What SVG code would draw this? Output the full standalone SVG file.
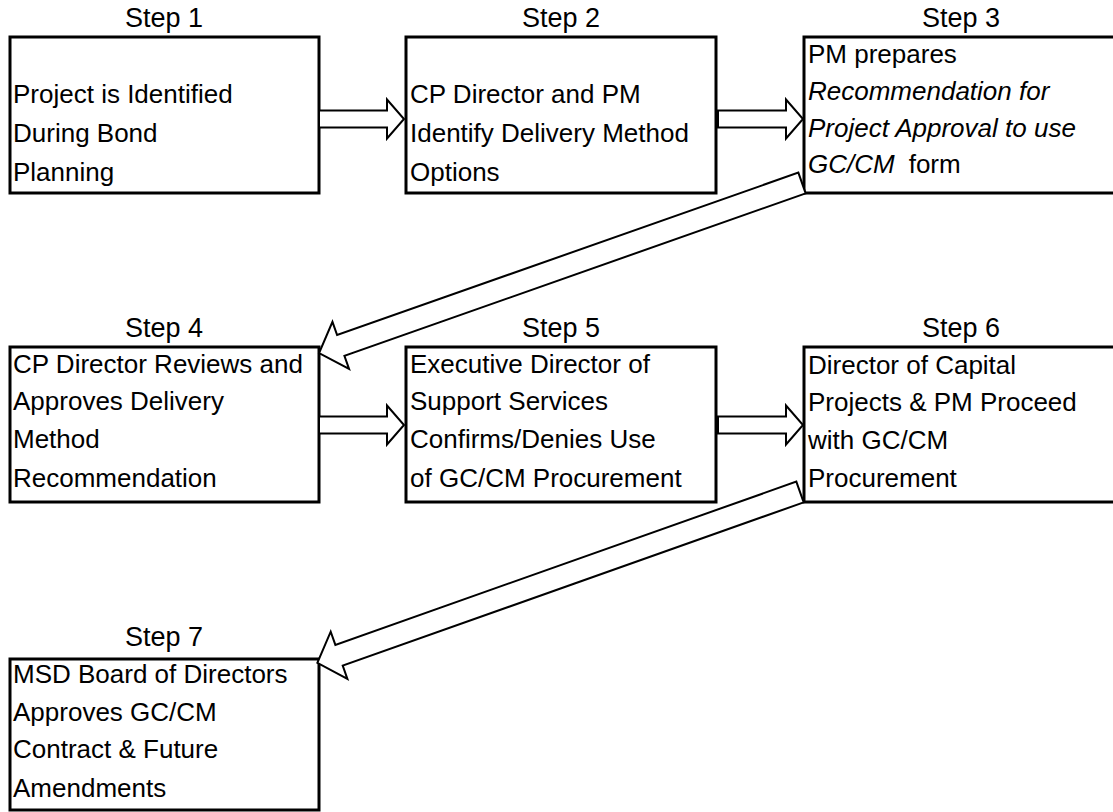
<svg xmlns="http://www.w3.org/2000/svg" width="1113" height="812" viewBox="0 0 1113 812">
<style>
text{font-family:"Liberation Sans",Arial,sans-serif;font-size:26px;fill:#000}
.lbl{text-anchor:middle;font-size:27px}
.it{font-style:italic}
.box{fill:#fff;stroke:#000;stroke-width:3}
.arr{fill:#fff;stroke:#000;stroke-width:2;stroke-linejoin:miter}
</style>
<rect width="1113" height="812" fill="#fff"/>
<defs>
<path id="hArrow" d="M0,-8.5 H68 V-19.5 L85,0 L68,19.5 V8.5 H0 Z"/>
<path id="dArrow" d="M0,-11 H489 V-25 L512,0 L489,25 V11 H0 Z"/>
</defs>
<g id="step1">
<text class="lbl" x="164" y="27">Step 1</text>
<rect class="box" x="10" y="37" width="309" height="156"/>
<text x="13" y="103">Project is Identified</text>
<text x="13" y="142">During Bond</text>
<text x="13" y="181">Planning</text>
</g>
<g id="step2">
<text class="lbl" x="561" y="27">Step 2</text>
<rect class="box" x="406" y="37" width="310" height="156"/>
<text x="410" y="103">CP Director and PM</text>
<text x="410" y="142">Identify Delivery Method</text>
<text x="410" y="181">Options</text>
</g>
<g id="step3">
<text class="lbl" x="961" y="27">Step 3</text>
<rect class="box" x="804" y="37" width="311" height="156"/>
<text x="808" y="63">PM prepares</text>
<text class="it" x="808" y="100">Recommendation for</text>
<text class="it" x="808" y="137">Project Approval to use</text>
<text x="808" y="173"><tspan class="it">GC/CM</tspan><tspan dx="14">form</tspan></text>
</g>
<g id="step4">
<text class="lbl" x="164" y="337">Step 4</text>
<rect class="box" x="10" y="347" width="309" height="155"/>
<text x="13" y="373">CP Director Reviews and</text>
<text x="13" y="410">Approves Delivery</text>
<text x="13" y="448">Method</text>
<text x="13" y="487">Recommendation</text>
</g>
<g id="step5">
<text class="lbl" x="561" y="337">Step 5</text>
<rect class="box" x="406" y="347" width="310" height="155"/>
<text x="410" y="373">Executive Director of</text>
<text x="410" y="410">Support Services</text>
<text x="410" y="448">Confirms/Denies Use</text>
<text x="410" y="487">of GC/CM Procurement</text>
</g>
<g id="step6">
<text class="lbl" x="961" y="337">Step 6</text>
<rect class="box" x="804" y="347" width="311" height="155"/>
<text x="808" y="374">Director of Capital</text>
<text x="808" y="411">Projects &amp; PM Proceed</text>
<text x="808" y="449">with GC/CM</text>
<text x="808" y="487">Procurement</text>
</g>
<g id="step7">
<text class="lbl" x="164" y="646">Step 7</text>
<rect class="box" x="10" y="659" width="309" height="151"/>
<text x="13" y="683">MSD Board of Directors</text>
<text x="13" y="721">Approves GC/CM</text>
<text x="13" y="758">Contract &amp; Future</text>
<text x="13" y="797">Amendments</text>
</g>
<g id="connectors">
<use href="#hArrow" class="arr" transform="translate(319,119)"/>
<use href="#hArrow" class="arr" transform="translate(718,119)"/>
<use href="#hArrow" class="arr" transform="translate(319,425)"/>
<use href="#hArrow" class="arr" transform="translate(718,425)"/>
<use href="#dArrow" class="arr" transform="translate(802,183) rotate(160.6)"/>
<use href="#dArrow" class="arr" transform="translate(800,492) rotate(160.5)"/>
</g>
</svg>
